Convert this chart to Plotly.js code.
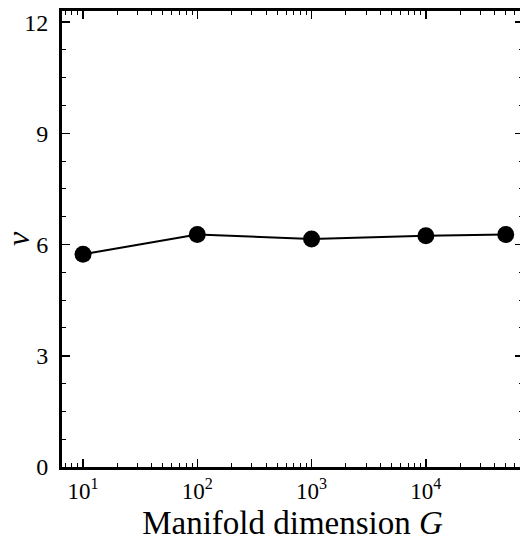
<!DOCTYPE html>
<html><head><meta charset="utf-8">
<script src="https://cdn.plot.ly/plotly-3.0.1.min.js"></script>
<style>html,body{margin:0;padding:0;overflow:hidden;background:#fff}</style>
</head><body><div id="chart"></div>
<script>
var dimG = [10, 100, 1000, 10000, 50000];
var nuVals = [5.74, 6.27, 6.15, 6.24, 6.27];
var xTickVals = [10, 100, 1000, 10000];
var xTickText = ['10<sup>1</sup>', '10<sup>2</sup>', '10<sup>3</sup>', '10<sup>4</sup>'];
var yTickVals = [0, 3, 6, 9, 12];

var minorX = [];
[1, 10, 100, 1000, 10000].forEach(function (d) { for (var k = 2; k <= 9; k++) minorX.push(d * k); });

var fam = 'Liberation Serif';
var trace = {
  x: dimG, y: nuVals, mode: 'lines+markers', type: 'scatter',
  line: {color: '#000', width: 2},
  marker: {color: '#000', size: 17}
};
var layout = {
  width: 523, height: 541,
  margin: {l: 62, r: 0, t: 11, b: 74},
  paper_bgcolor: '#fff', plot_bgcolor: '#fff',
  showlegend: false,
  font: {family: fam, color: '#000'},
  xaxis: {
    type: 'log', range: [0.816, 4.85],
    tickmode: 'array', tickvals: xTickVals, ticktext: xTickText,
    ticks: 'inside', ticklen: 8, tickwidth: 1.5, tickcolor: '#000',
    minor: {tickmode: 'array', tickvals: minorX, ticks: 'inside', ticklen: 4, tickwidth: 1, tickcolor: '#000'},
    showline: true, linewidth: 3, linecolor: '#000', mirror: 'allticks',
    showgrid: false, zeroline: false,
    ticklabelstandoff: 1,
    tickfont: {size: 23, family: fam, color: '#000'},
    title: {text: 'Manifold dimension <i>G</i>', font: {size: 33, family: fam, color: '#000'}, standoff: 12}
  },
  yaxis: {
    range: [0, 12.3],
    tickmode: 'array', tickvals: yTickVals,
    ticks: 'inside', ticklen: 8, tickwidth: 1.5, tickcolor: '#000',
    minor: {dtick: 0.75, tick0: 0, ticks: 'inside', ticklen: 4, tickwidth: 1, tickcolor: '#000'},
    showline: true, linewidth: 3, linecolor: '#000', mirror: 'allticks',
    showgrid: false, zeroline: false,
    ticklabelstandoff: 6,
    tickfont: {size: 24, family: fam, color: '#000'},
    title: {text: '<i>ν</i>', font: {size: 32, family: fam, color: '#000'}, standoff: 10}
  }
};
Plotly.newPlot('chart', [trace], layout, {displayModeBar: false, staticPlot: true});
</script></body></html>
